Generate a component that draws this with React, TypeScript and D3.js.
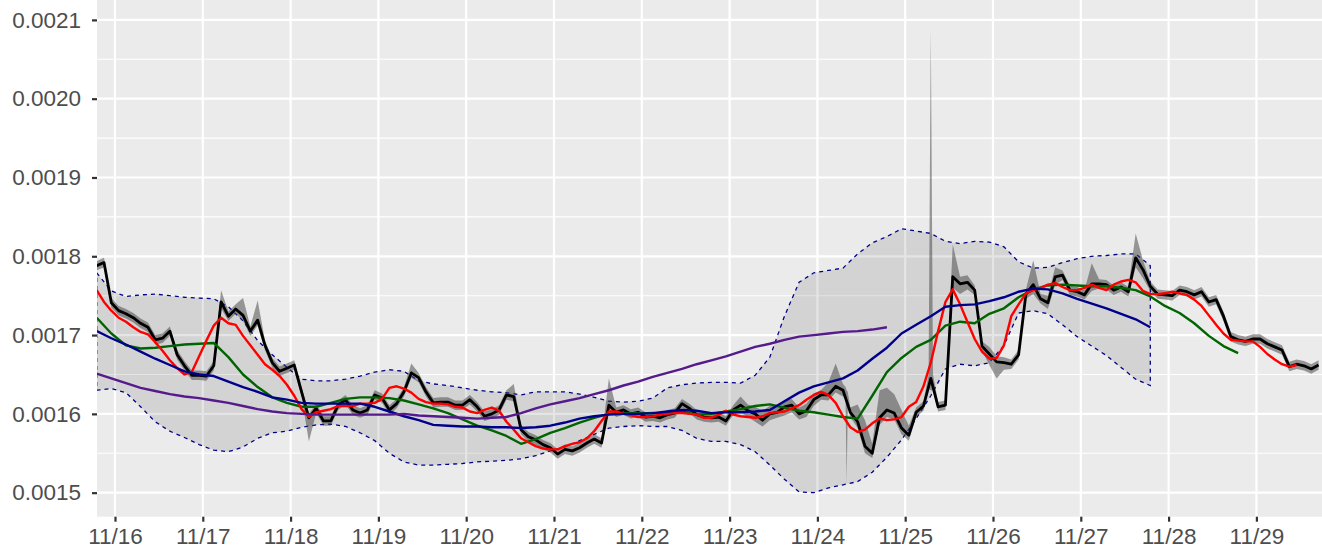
import React, { useEffect, useRef } from "react";
import * as d3 from "d3";

// all values below are in units of 1e-4
const UNIT = 1e-4;
const start = new Date(2021, 10, 15, 19); // first sample, 11/15 19:00

// black price line, one point every 2 hours
const price = [
  17.88, 17.92, 17.41, 17.31, 17.27, 17.22, 17.15, 17.10, 16.94, 16.96,
  17.05, 16.75, 16.61, 16.49, 16.49, 16.48, 16.61, 17.42, 17.24, 17.33,
  17.25, 17.05, 17.19, 16.87, 16.65, 16.54, 16.58, 16.62, 16.28, 15.95,
  16.07, 15.91, 15.91, 16.11, 16.18, 16.05, 16.01, 16.05, 16.24, 16.20,
  16.05, 16.13, 16.28, 16.52, 16.46, 16.28, 16.14, 16.15, 16.15, 16.11,
  16.11, 16.18, 16.09, 15.97, 16.00, 16.05, 16.24, 16.22, 15.80, 15.71,
  15.67, 15.61, 15.57, 15.49, 15.55, 15.53, 15.57, 15.63, 15.68, 15.63,
  16.11, 16.02, 16.05, 16.00, 16.02, 15.96, 15.97, 15.95, 15.99, 16.01,
  16.13, 16.07, 15.99, 15.96, 15.95, 15.96, 15.91, 16.05, 16.11, 16.04,
  16.00, 15.92, 16.00, 16.02, 16.09, 16.11, 16.00, 16.04, 16.18, 16.24,
  16.24, 16.35, 16.30, 16.02, 15.90, 15.59, 15.50, 15.95, 16.05, 16.01,
  15.82, 15.73, 16.02, 16.10, 16.45, 16.09, 16.11, 17.74, 17.65, 17.67,
  17.57, 16.86, 16.76, 16.66, 16.65, 16.63, 16.75, 17.52, 17.64, 17.46,
  17.41, 17.74, 17.76, 17.57, 17.55, 17.51, 17.65, 17.65, 17.64, 17.57,
  17.61, 17.55, 17.98, 17.83, 17.62, 17.52, 17.51, 17.50, 17.57, 17.55,
  17.51, 17.55, 17.42, 17.45, 17.24, 16.98, 16.94, 16.92, 16.95, 16.95,
  16.89, 16.85, 16.81, 16.60, 16.63, 16.61, 16.57, 16.62,
];

// dark ribbon around the price: usual half width, then [index, low, high] and [hour, low, high] needles
const ribbonHalf = 0.06;
const ribbonOverrides: [number, number, number][] = [
  [17, 17.34, 17.57], [20, 17.18, 17.47], [22, 17.12, 17.44], [29, 15.65, 16.0],
  [43, 16.46, 16.64], [57, 16.16, 16.38], [70, 16.05, 16.45], [88, 16.02, 16.22],
  [89, 15.96, 16.12], [90, 15.9, 16.09], [91, 15.84, 16.04], [92, 15.92, 16.1],
  [93, 15.95, 16.1], [94, 15.98, 16.17], [95, 16.02, 16.19], [96, 15.93, 16.08],
  [97, 15.96, 16.13], [98, 16.1, 16.26], [100, 16.17, 16.4], [101, 16.27, 16.64],
  [102, 16.22, 16.38], [104, 15.82, 16.12], [105, 15.5, 15.92], [106, 15.44, 15.62],
  [107, 15.86, 16.3], [108, 15.96, 16.33], [109, 15.93, 16.25], [110, 15.74, 16.05],
  [111, 15.66, 15.85], [114, 16.3, 20.88], [117, 17.6, 18.15], [118, 17.52, 17.74],
  [119, 17.58, 17.76], [122, 16.62, 16.85], [123, 16.45, 16.73], [124, 16.56, 16.72],
  [128, 17.52, 17.95], [130, 17.33, 17.5], [131, 17.64, 17.86], [136, 17.56, 17.91],
  [142, 17.86, 18.29], [143, 17.72, 17.95],
];
const ribbonNeedles: [number, number, number][] = [
  [204.7, 16.18, 16.34], [205.0, 15.12, 16.3], [205.3, 16.1, 16.28],
  [227.4, 16.32, 16.5], [228.6, 16.3, 16.5],
];

// red average, every 2 hours
const fastAvg = [
  17.57, 17.42, 17.31, 17.22, 17.17, 17.10, 17.04, 17.01, 16.91, 16.80,
  16.68, 16.58, 16.50, 16.53, 16.73, 16.93, 17.12, 17.22, 17.15, 17.13,
  16.99, 16.87, 16.75, 16.63, 16.56, 16.48, 16.37, 16.23, 16.06, 15.96,
  16.02, 16.04, 16.06, 16.10, 16.10, 16.10, 16.13, 16.13, 16.14, 16.19,
  16.33, 16.35, 16.32, 16.27, 16.19, 16.15, 16.13, 16.13, 16.12, 16.09,
  16.08, 16.03, 16.01, 16.05, 16.08, 16.04, 15.90, 15.80, 15.69, 15.64,
  15.59, 15.56, 15.55, 15.55, 15.59, 15.62, 15.64, 15.69, 15.78, 15.91,
  16.03, 16.03, 16.00, 15.98, 15.96, 15.96, 15.97, 15.99, 16.00, 16.01,
  16.01, 16.00, 15.99, 15.95, 15.95, 15.99, 16.04, 15.99, 15.97, 15.96,
  15.95, 15.97, 16.01, 16.02, 16.03, 16.07, 16.11, 16.18, 16.24, 16.28,
  16.24, 16.14, 15.97, 15.83, 15.77, 15.80, 15.88, 15.94, 15.92, 15.93,
  15.96, 16.09, 16.15, 16.35, 16.65, 17.05, 17.42, 17.58, 17.39, 17.17,
  16.95, 16.79, 16.70, 16.71, 16.87, 17.24, 17.39, 17.53, 17.57, 17.60,
  17.64, 17.66, 17.61, 17.57, 17.57, 17.60, 17.64, 17.60, 17.57, 17.64,
  17.68, 17.70, 17.67, 17.56, 17.52, 17.52, 17.53, 17.55, 17.53, 17.51,
  17.45, 17.37, 17.25, 17.13, 17.02, 16.94, 16.93, 16.92, 16.92, 16.85,
  16.76, 16.69, 16.63, 16.60, 16.62,
];

// slower averages, every 4 hours
const midAvg = [
  17.22, 17.02, 16.87, 16.83, 16.84, 16.86, 16.88, 16.89, 16.90, 16.72,
  16.50, 16.34, 16.21, 16.14, 16.09, 16.09, 16.14, 16.19, 16.21, 16.21,
  16.20, 16.17, 16.12, 16.07, 16.01, 15.93, 15.85, 15.79, 15.72, 15.62,
  15.68, 15.76, 15.82, 15.89, 15.95, 16.00, 16.01, 16.01, 16.01, 16.01,
  16.03, 15.99, 16.00, 16.03, 16.06, 16.10, 16.12, 16.08, 16.04, 16.02,
  15.99, 15.96, 15.94, 16.23, 16.53, 16.71, 16.85, 16.94, 17.12, 17.17,
  17.15, 17.27, 17.34, 17.48, 17.58, 17.63, 17.64, 17.63, 17.62, 17.62,
  17.60, 17.57, 17.49, 17.37, 17.28, 17.15, 16.99, 16.86, 16.77,
];
const slowAvg = [
  17.05, 16.96, 16.88, 16.79, 16.70, 16.62, 16.54, 16.50, 16.48, 16.41,
  16.34, 16.28, 16.21, 16.18, 16.14, 16.13, 16.13, 16.13, 16.13, 16.09,
  16.03, 15.97, 15.92, 15.86, 15.85, 15.84, 15.84, 15.83, 15.83, 15.82,
  15.83, 15.85, 15.89, 15.94, 15.97, 15.99, 16.00, 16.00, 16.01, 16.03,
  16.05, 16.04, 16.01, 16.02, 16.02, 16.03, 16.05, 16.16, 16.27, 16.35,
  16.40, 16.45, 16.55, 16.70, 16.84, 17.02, 17.13, 17.24, 17.36, 17.38,
  17.39, 17.43, 17.48, 17.55, 17.59, 17.58, 17.53, 17.46, 17.40, 17.34,
  17.27, 17.20, 17.10,
];
const longAvg = [
  16.51, 16.45, 16.39, 16.33, 16.29, 16.25, 16.22, 16.20, 16.17, 16.14,
  16.10, 16.06, 16.03, 16.01, 16.00, 15.99, 15.99, 15.99, 15.99, 15.99,
  15.99, 16.00, 15.98, 15.97, 15.96, 15.95, 15.94, 15.95, 15.96, 16.01,
  16.07, 16.12, 16.16, 16.20, 16.25, 16.30, 16.36, 16.41, 16.47, 16.52,
  16.57, 16.63, 16.68, 16.73, 16.79, 16.85, 16.89, 16.94, 16.98, 17.00,
  17.02, 17.04, 17.05, 17.07, 17.10,
];
const bandUpper = [
  17.79, 17.56, 17.49, 17.51, 17.52, 17.50, 17.48, 17.47, 17.46, 17.36,
  17.18, 16.93, 16.75, 16.59, 16.44, 16.42, 16.42, 16.44, 16.48, 16.53,
  16.56, 16.54, 16.42, 16.38, 16.36, 16.33, 16.30, 16.28, 16.27, 16.24,
  16.28, 16.28, 16.28, 16.25, 16.21, 16.16, 16.15, 16.16, 16.20, 16.33,
  16.37, 16.39, 16.40, 16.40, 16.39, 16.49, 16.72, 17.24, 17.67, 17.79,
  17.82, 17.85, 18.03, 18.17, 18.25, 18.35, 18.32, 18.29, 18.19, 18.16,
  18.19, 18.18, 18.12, 17.93, 17.85, 17.86, 17.92, 17.97, 18.00, 18.01,
  18.03, 18.03, 17.88,
];
const bandLower = [
  16.30, 16.32, 16.27, 16.09, 15.90, 15.78, 15.70, 15.61, 15.54, 15.52,
  15.58, 15.69, 15.76, 15.78, 15.83, 15.86, 15.87, 15.84, 15.76, 15.66,
  15.50, 15.39, 15.35, 15.35, 15.36, 15.37, 15.39, 15.40, 15.41, 15.43,
  15.47, 15.53, 15.58, 15.66, 15.74, 15.82, 15.84, 15.85, 15.84, 15.84,
  15.79, 15.69, 15.65, 15.65, 15.61, 15.52, 15.35, 15.17, 15.01, 15.00,
  15.06, 15.10, 15.14, 15.26, 15.45, 15.67, 15.94, 16.23, 16.57, 16.63,
  16.61, 16.65, 16.87, 17.28, 17.31, 17.27, 17.13, 16.98, 16.86, 16.74,
  16.59, 16.44, 16.36,
];

const yTicks = [15, 16, 17, 18, 19, 20, 21];
const yMinor = [15.5, 16.5, 17.5, 18.5, 19.5, 20.5];
const firstDay = new Date(2021, 10, 16);
const lastDay = new Date(2021, 10, 30);

type Pt = { t: Date; v: number };
type Band = { t: Date; lo: number; hi: number };

const App = () => {
  const ref = useRef<SVGSVGElement>(null);

  useEffect(() => {
    document.body.style.margin = "0";
    const svg = d3.select(ref.current);
    svg.selectAll("*").remove();

    const left = 97, right = 1322, top = 0, bottom = 516.7;
    const font = "'Liberation Sans', Arial, Helvetica, sans-serif";

    const x = d3.scaleTime()
      .domain([new Date(2021, 10, 15, 19, 5), new Date(2021, 10, 29, 17, 56)])
      .range([left, right]);
    const y = d3.scaleLinear()
      .domain([14.695 * UNIT, 21.2525 * UNIT])
      .range([bottom, top]);

    const at = (hours: number) => new Date(start.getTime() + hours * 3600e3);
    const series = (vals: number[], stepH: number): Pt[] =>
      vals.map((v, i) => ({ t: at(i * stepH), v: v * UNIT }));

    // panel
    svg.append("rect").attr("x", left).attr("y", top)
      .attr("width", right - left).attr("height", bottom - top).attr("fill", "#EBEBEB");

    const grid = svg.append("g").attr("stroke", "#FFFFFF");
    grid.selectAll(".minor").data(yMinor).join("line")
      .attr("x1", left).attr("x2", right)
      .attr("y1", d => y(d * UNIT)).attr("y2", d => y(d * UNIT))
      .attr("stroke-width", 1.1);
    grid.selectAll(".majorY").data(yTicks).join("line")
      .attr("x1", left).attr("x2", right)
      .attr("y1", d => y(d * UNIT)).attr("y2", d => y(d * UNIT))
      .attr("stroke-width", 2.2);
    const days = d3.timeDay.range(firstDay, lastDay);
    grid.selectAll(".majorX").data(days).join("line")
      .attr("x1", d => x(d)).attr("x2", d => x(d))
      .attr("y1", top).attr("y2", bottom)
      .attr("stroke-width", 2.2);

    svg.append("clipPath").attr("id", "panel-clip")
      .append("rect").attr("x", left).attr("y", top)
      .attr("width", right - left).attr("height", bottom - top);
    const plot = svg.append("g").attr("clip-path", "url(#panel-clip)");

    // light band with dashed outline
    const upper = series(bandUpper, 4);
    const lower = series(bandLower, 4);
    const outline = upper.concat(lower.slice().reverse());
    const polyLine = d3.line<Pt>().x(d => x(d.t)).y(d => y(d.v));
    plot.append("path")
      .attr("d", polyLine(outline) + "Z")
      .attr("fill", "#000000").attr("fill-opacity", 0.1)
      .attr("stroke", "#00008B").attr("stroke-width", 1.3)
      .attr("stroke-dasharray", "4,4");

    // dark ribbon around the price
    const ribbon: Band[] = price.map((v, i) => ({ t: at(i * 2), lo: (v - ribbonHalf) * UNIT, hi: (v + ribbonHalf) * UNIT }));
    ribbonOverrides.forEach(([i, lo, hi]) => {
      ribbon[i].lo = lo * UNIT;
      ribbon[i].hi = hi * UNIT;
    });
    ribbonNeedles.forEach(([h, lo, hi]) => ribbon.push({ t: at(h), lo: lo * UNIT, hi: hi * UNIT }));
    ribbon.sort((a, b) => a.t.getTime() - b.t.getTime());
    const area = d3.area<Band>().x(d => x(d.t)).y0(d => y(d.lo)).y1(d => y(d.hi));
    plot.append("path").attr("d", area(ribbon))
      .attr("fill", "#404040").attr("fill-opacity", 0.5);

    const draw = (pts: Pt[], color: string, width: number) => {
      plot.append("path").datum(pts)
        .attr("d", polyLine)
        .attr("fill", "none")
        .attr("stroke", color)
        .attr("stroke-width", width)
        .attr("stroke-linejoin", "round");
    };
    draw(series(price, 2), "#000000", 2.8);
    draw(series(midAvg, 4), "#006400", 2.4);
    draw(series(fastAvg, 2), "#FF0000", 2.4);
    draw(series(slowAvg, 4), "#00008B", 2.4);
    draw(series(longAvg, 4), "#551A8B", 2.4);

    // axes
    const yAxis = d3.axisLeft(y)
      .tickValues(yTicks.map(v => v * UNIT))
      .tickFormat(d3.format(".4f"))
      .tickSize(5).tickPadding(11);
    const gy = svg.append("g").attr("transform", `translate(${left},0)`).call(yAxis);
    const xAxis = d3.axisBottom(x)
      .tickValues(days)
      .tickFormat(d3.timeFormat("%m/%d") as any)
      .tickSize(5).tickPadding(6);
    const gx = svg.append("g").attr("transform", `translate(0,${bottom})`).call(xAxis);

    [gx, gy].forEach(g => {
      g.select(".domain").remove();
      g.selectAll(".tick line").attr("stroke", "#333333").attr("stroke-width", 2.2);
      g.selectAll(".tick text")
        .attr("fill", "#4D4D4D")
        .style("font-family", font)
        .style("font-size", "22.5px");
    });
  }, []);

  return <svg ref={ref} width={1322} height={548} style={{ display: "block" }} />;
};

export default App;
